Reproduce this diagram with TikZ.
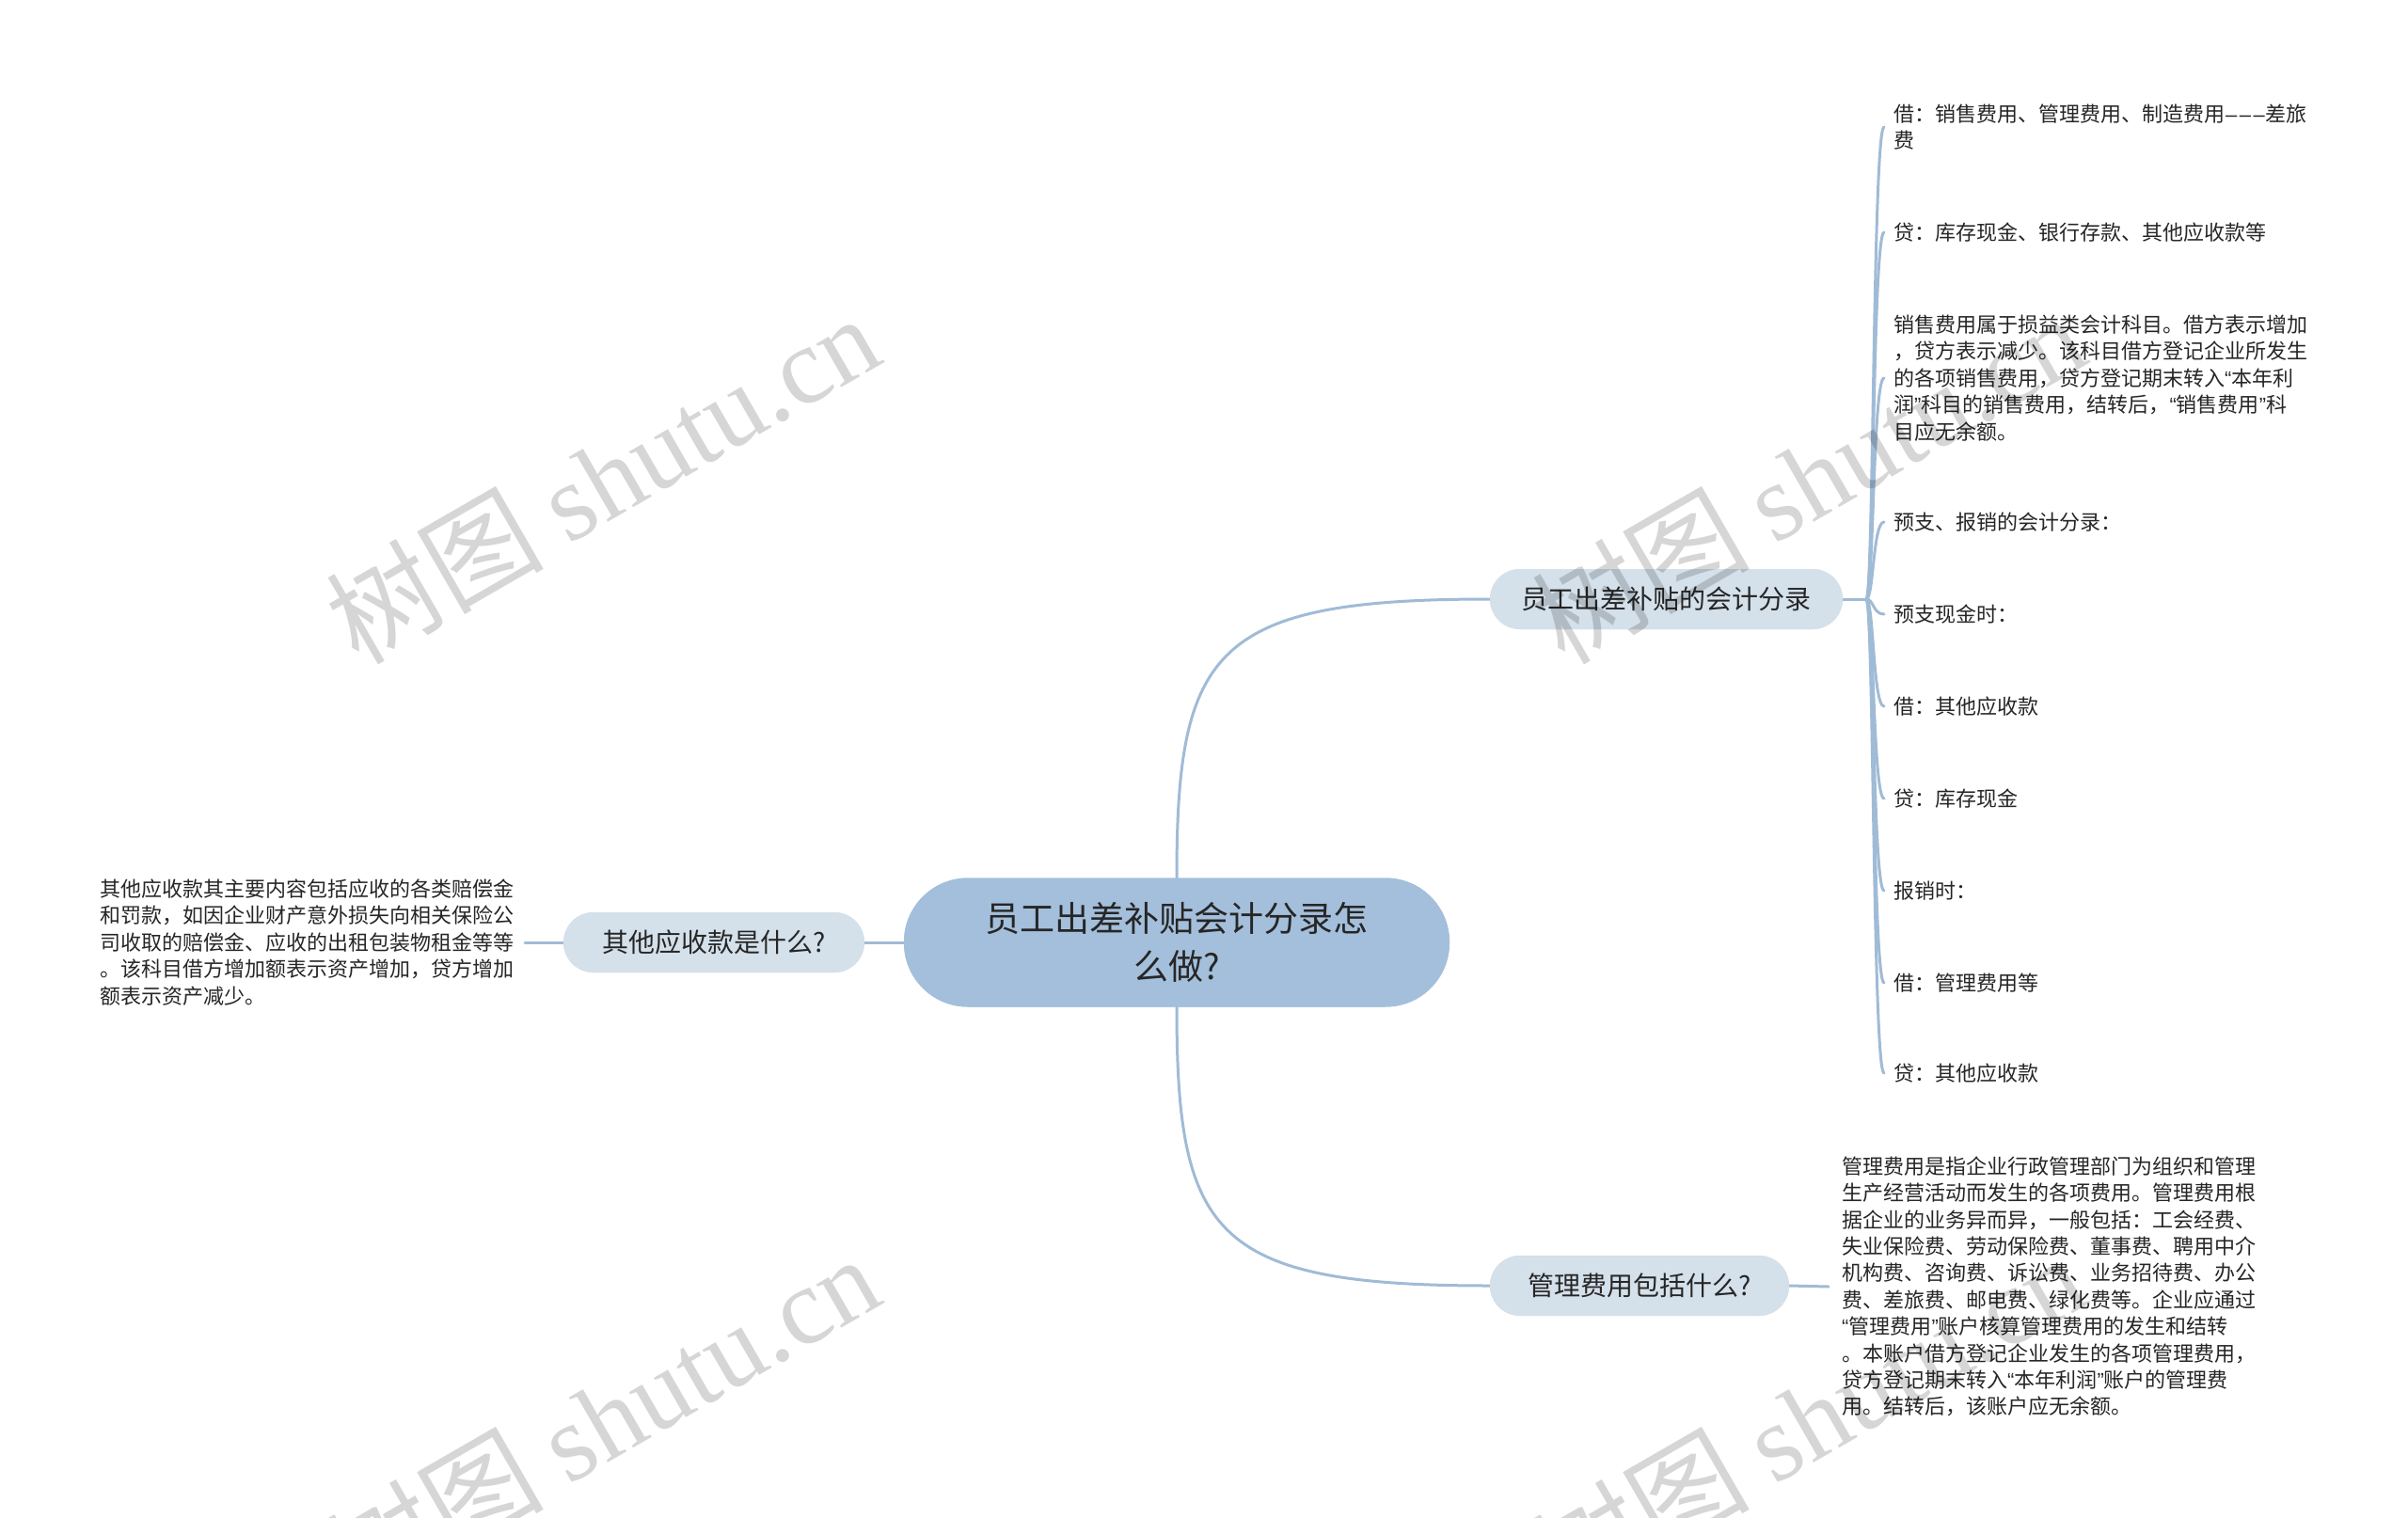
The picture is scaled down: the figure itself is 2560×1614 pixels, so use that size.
\documentclass[tikz,border=0pt]{standalone}
\usepackage{fontspec}
\setmainfont{Noto Sans CJK SC}
\newfontfamily\cjk{Noto Sans CJK SC}
\newfontfamily\wmserif{Liberation Serif}
\newfontfamily\latsans{Liberation Sans}
\newcommand{\myql}{{\latsans “}}
\newcommand{\myqr}{{\latsans ”}}
\newcommand{\mydash}{{\latsans\kern1pt\char"2013\kern2.5pt\char"2013\kern2.5pt\char"2013\kern1pt}}
\usetikzlibrary{calc}
\definecolor{linec}{HTML}{A0BBD6}
\definecolor{rootfill}{HTML}{A4BFDB}
\definecolor{subfill}{HTML}{D4E0EA}
\definecolor{txt}{HTML}{262626}
\tikzset{
  conn/.style={draw=linec, line width=3pt, line cap=round},
  rootbox/.style={fill=rootfill, draw=none, rounded corners=68pt, minimum width=580pt, minimum height=137pt, inner sep=0pt, align=center, text=txt, font=\fontsize{37}{50.6}\selectfont},
  subbox/.style={fill=subfill, draw=none, rounded corners=32pt, minimum height=64pt, inner sep=0pt, align=center, text=txt, font=\fontsize{28}{34}\selectfont},
  leafR/.style={anchor=west, inner ysep=0pt, inner xsep=10pt, align=left, text=txt, font=\fontsize{22}{28.4}\selectfont},
  leafL/.style={anchor=east, inner ysep=0pt, inner xsep=11pt, align=left, text=txt, font=\fontsize{22}{28.4}\selectfont},
  wmark/.style={rotate=30, text=black, opacity=0.16, font=\fontsize{116}{126}\selectfont}
}
\begin{document}
\begin{tikzpicture}[x=1pt, y=-1pt]
\useasboundingbox (0,0) rectangle (2560,1614);
\fill[white] (0,0) rectangle (2560,1614);

% main nodes
\node[rootbox] (root) at (1251,1002) {员工出差补贴会计分录怎\\么做?};
\node[subbox, minimum width=375pt] (s1) at (1771.5,637) {员工出差补贴的会计分录};
\node[subbox, minimum width=320pt] (s2) at (759,1002) {其他应收款是什么?};
\node[subbox, minimum width=318pt] (s3) at (1743,1367) {管理费用包括什么?};

% right leaves of s1
\node[leafR] (r1) at (2003,135) {借：销售费用、管理费用、制造费用\mydash 差旅\\费};
\node[leafR] (r2) at (2003,247) {贷：库存现金、银行存款、其他应收款等};
\node[leafR] (r3) at (2003,402) {销售费用属于损益类会计科目。借方表示增加\\，贷方表示减少。该科目借方登记企业所发生\\的各项销售费用，贷方登记期末转入\myql 本年利\\润\myqr 科目的销售费用，结转后，\myql 销售费用\myqr 科\\目应无余额。};
\node[leafR] (r4) at (2003,555) {预支、报销的会计分录：};
\node[leafR] (r5) at (2003,653) {预支现金时：};
\node[leafR] (r6) at (2003,751) {借：其他应收款};
\node[leafR] (r7) at (2003,849) {贷：库存现金};
\node[leafR] (r8) at (2003,947) {报销时：};
\node[leafR] (r9) at (2003,1045) {借：管理费用等};
\node[leafR] (r10) at (2003,1141) {贷：其他应收款};

% left leaf
\node[leafL] (l1) at (558,1002) {其他应收款其主要内容包括应收的各类赔偿金\\和罚款，如因企业财产意外损失向相关保险公\\司收取的赔偿金、应收的出租包装物租金等等\\。该科目借方增加额表示资产增加，贷方增加\\额表示资产减少。};

% bottom leaf
\node[leafR, inner xsep=14pt] (b1) at (1944,1368) {管理费用是指企业行政管理部门为组织和管理\\生产经营活动而发生的各项费用。管理费用根\\据企业的业务异而异，一般包括：工会经费、\\失业保险费、劳动保险费、董事费、聘用中介\\机构费、咨询费、诉讼费、业务招待费、办公\\费、差旅费、邮电费、绿化费等。企业应通过\\\myql 管理费用\myqr 账户核算管理费用的发生和结转\\。本账户借方登记企业发生的各项管理费用，\\贷方登记期末转入\myql 本年利润\myqr 账户的管理费\\用。结转后，该账户应无余额。};

% connectors
\draw[conn] (root.north) .. controls (1251,690) and (1290,637) .. (s1.west);
\draw[conn] (root.south) .. controls (1251,1314) and (1290,1367) .. (s3.west);
\draw[conn] (root.west) -- (s2.east);
\draw[conn] (s2.west) -- (l1.east);
\draw[conn] (s3.east) -- (b1.west);
\coordinate (j1) at (1984,637);
\draw[conn] (s1.east) -- (j1);
\foreach \n in {r1,r2,r3,r4,r5,r6,r7,r8,r9,r10}{
  \draw[conn] (j1) .. controls (1992,637) and ($(\n.west)+(-12,0)$) .. (\n.west);
}
% redraw nodes above connectors
\node[rootbox] at (root) {员工出差补贴会计分录怎\\么做?};
\node[subbox, minimum width=375pt] at (s1) {员工出差补贴的会计分录};
\node[subbox, minimum width=320pt] at (s2) {其他应收款是什么?};
\node[subbox, minimum width=318pt] at (s3) {管理费用包括什么?};

% watermarks
\node[wmark] (w1) at (640,508) {{\cjk 树图} {\wmserif shutu.cn}};
\node[wmark] (w2) at (1922,508) {{\cjk 树图} {\wmserif shutu.cn}};
\node[wmark] (w3) at (640,1508) {{\cjk 树图} {\wmserif shutu.cn}};
\node[wmark] (w4) at (1922,1508) {{\cjk 树图} {\wmserif shutu.cn}};
\end{tikzpicture}
\end{document}
